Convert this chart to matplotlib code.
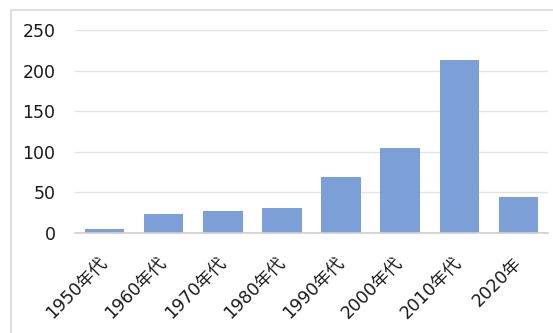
import matplotlib
matplotlib.use("Agg")
import matplotlib.pyplot as plt
import matplotlib.transforms as mtransforms
from matplotlib.patches import Rectangle

# data
categories = ["1950年代", "1960年代", "1970年代", "1980年代", "1990年代", "2000年代", "2010年代", "2020年"]
counts = [5, 23, 27, 31, 69, 105, 213, 44]
yticks = [0, 50, 100, 150, 200, 250]

plt.rcParams["font.family"] = ["DejaVu Sans", "Noto Sans CJK JP"]

W, H = 553, 333
fig = plt.figure(figsize=(W / 100, H / 100), dpi=100)
ax = fig.add_axes([75 / W, 1 - 233 / H, (548 - 75) / W, (233 - 30) / H])

x = range(len(categories))
ax.bar(x, counts, width=0.67, color="#7B9FD6", zorder=2)

ax.set_xlim(-0.5, len(categories) - 0.5)
ax.set_ylim(0, 250)
ax.set_yticks(yticks)
ax.set_xticks(list(x))
ax.set_xticklabels(categories, rotation=45, ha="right", rotation_mode="anchor")
ax.tick_params(axis="both", length=0, labelsize=12.5, colors="#1a1a1a")
ax.tick_params(axis="y", pad=14)
ax.tick_params(axis="x", pad=12)
# nudge the rotated labels a little left/down like the original
shift = mtransforms.ScaledTranslation(-6 / 100, -4 / 100, fig.dpi_scale_trans)
for lbl in ax.get_xticklabels():
    lbl.set_transform(lbl.get_transform() + shift)
ax.grid(axis="y", color="#e3e3e3", linewidth=1, zorder=0)
for s in ["top", "right", "left"]:
    ax.spines[s].set_visible(False)
ax.spines["bottom"].set_color("#d0d0d0")
ax.spines["bottom"].set_linewidth(1.2)

# chart area frame
fig.patches.append(Rectangle((11 / W, -0.1), 1.2, 1 - 10 / H + 0.1,
                             transform=fig.transFigure, fill=False,
                             edgecolor="#d9d9d9", linewidth=1.2))

fig.savefig("out.png", dpi=100)
